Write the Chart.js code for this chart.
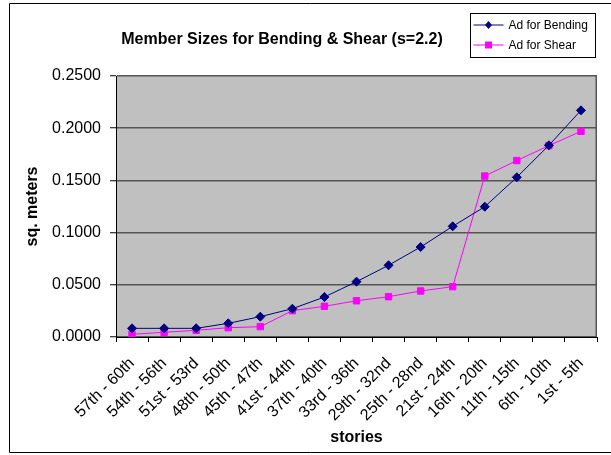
<!DOCTYPE html>
<html>
<head>
<meta charset="utf-8">
<script src="https://cdn.jsdelivr.net/npm/chart.js@4/dist/chart.umd.min.js"></script>
<style>
  html, body { margin: 0; padding: 0; background: #fff; }
  canvas { display: block; }
</style>
</head>
<body>
<canvas id="c" width="611" height="455"></canvas>
<script>
// Story groups, top of the building first
const stories = [
  '57th - 60th', '54th - 56th', '51st - 53rd', '48th - 50th', '45th - 47th',
  '41st - 44th', '37th - 40th', '33rd - 36th', '29th - 32nd', '25th - 28nd',
  '21st - 24th', '16th - 20th', '11th - 15th', '6th - 10th', '1st - 5th'
];

// Required member area (sq. meters)
const adBending = [
  0.0083, 0.0083, 0.0083, 0.0131, 0.0195, 0.0271, 0.0383, 0.0530,
  0.0687, 0.0862, 0.1060, 0.1248, 0.1530, 0.1836, 0.2171
];
const adShear = [
  0.0026, 0.0045, 0.0064, 0.0089, 0.0099, 0.0252, 0.0294, 0.0347,
  0.0386, 0.0441, 0.0482, 0.1542, 0.1690, 0.1833, 0.1970
];

const yTicks = [0, 0.05, 0.10, 0.15, 0.20, 0.25];
const seriesNames = ['Ad for Bending', 'Ad for Shear'];
const chartTitle = 'Member Sizes for Bending & Shear (s=2.2)';
const xTitle = 'stories';
const yTitle = 'sq. meters';

const FONT = "'Liberation Sans', Arial, Helvetica, sans-serif";

// White page, black frame, grey plot background and right-hand plot edge
const framePlugin = {
  id: 'frame',
  beforeDraw(chart) {
    const { ctx, chartArea: a, width, height } = chart;
    ctx.save();
    ctx.fillStyle = '#ffffff';
    ctx.fillRect(0, 0, width, height);
    ctx.strokeStyle = '#000';
    ctx.lineWidth = 1;
    ctx.beginPath();
    ctx.moveTo(width, 3.5);
    ctx.lineTo(9.5, 3.5);
    ctx.lineTo(9.5, height - 2.5);
    ctx.lineTo(width, height - 2.5);
    ctx.stroke();
    ctx.fillStyle = '#c0c0c0';
    ctx.fillRect(a.left, a.top, a.right - a.left, a.bottom - a.top);
    ctx.restore();
  },
  beforeDatasetsDraw(chart) {
    const { ctx, chartArea: a } = chart;
    ctx.save();
    ctx.strokeStyle = '#555';
    ctx.lineWidth = 1.5;
    ctx.beginPath();
    ctx.moveTo(a.right - 0.75, a.top);
    ctx.lineTo(a.right - 0.75, a.bottom);
    ctx.stroke();
    ctx.restore();
  }
};

function drawMarker(ctx, style, x, y, color) {
  ctx.fillStyle = color;
  ctx.strokeStyle = color;
  ctx.beginPath();
  if (style === 'rectRot') {
    ctx.moveTo(x, y - 4);
    ctx.lineTo(x + 3.5, y);
    ctx.lineTo(x, y + 4);
    ctx.lineTo(x - 3.5, y);
    ctx.closePath();
  } else {
    ctx.rect(x - 3.5, y - 3.5, 7, 7);
  }
  ctx.fill();
}

// Chart heading and boxed legend in the upper right
const headerPlugin = {
  id: 'header',
  afterDraw(chart) {
    const { ctx } = chart;
    ctx.save();
    ctx.fillStyle = '#000';
    ctx.font = 'bold 16px ' + FONT;
    ctx.textAlign = 'center';
    ctx.textBaseline = 'middle';
    ctx.fillText(chartTitle, 282, 40);

    const bx = 470.5, by = 13.5, bw = 125, bh = 44;
    ctx.fillStyle = '#fff';
    ctx.fillRect(bx, by, bw, bh);
    ctx.strokeStyle = '#000';
    ctx.lineWidth = 1;
    ctx.strokeRect(bx, by, bw, bh);

    ctx.font = '12px ' + FONT;
    ctx.textAlign = 'left';
    chart.data.datasets.forEach((ds, i) => {
      const y = by + 11.5 + i * 20;
      ctx.strokeStyle = ds.borderColor;
      ctx.lineWidth = 1;
      ctx.beginPath();
      ctx.moveTo(bx + 3, y);
      ctx.lineTo(bx + 33, y);
      ctx.stroke();
      drawMarker(ctx, ds.pointStyle, bx + 18, y, ds.borderColor);
      ctx.fillStyle = '#000';
      ctx.fillText(ds.label, bx + 38, y + 0.5);
    });
    ctx.restore();
  }
};

new Chart(document.getElementById('c'), {
  type: 'line',
  data: {
    labels: stories,
    datasets: [
      {
        label: seriesNames[0],
        data: adBending,
        borderColor: '#000080',
        backgroundColor: '#000080',
        borderWidth: 1,
        pointStyle: 'rectRot',
        pointRadius: 4.5,
        pointBorderWidth: 1,
        tension: 0
      },
      {
        label: seriesNames[1],
        data: adShear,
        borderColor: '#ff00ff',
        backgroundColor: '#ff00ff',
        borderWidth: 1,
        pointStyle: 'rect',
        pointRadius: 4.5,
        pointBorderWidth: 1,
        tension: 0
      }
    ]
  },
  options: {
    responsive: false,
    animation: false,
    events: [],
    layout: { padding: { top: 76, left: 0, right: 14, bottom: 0 } },
    plugins: {
      legend: { display: false },
      title: { display: false },
      tooltip: { enabled: false }
    },
    scales: {
      x: {
        type: 'category',
        offset: true,
        afterFit(scale) { scale.height = 118; },
        grid: {
          offset: true,
          drawOnChartArea: false,
          drawTicks: true,
          tickLength: 5,
          tickColor: '#000',
          tickWidth: 1
        },
        border: { display: true, color: '#000', width: 1 },
        ticks: {
          autoSkip: false,
          minRotation: 45,
          maxRotation: 45,
          padding: 12,
          color: '#000',
          font: { family: FONT, size: 16 }
        },
        title: {
          display: true,
          text: xTitle,
          color: '#000',
          font: { family: FONT, size: 16, weight: 'bold' },
          padding: { top: 0, bottom: 8 }
        }
      },
      y: {
        min: yTicks[0],
        max: yTicks[yTicks.length - 1],
        afterFit(scale) { scale.width = 116; },
        afterBuildTicks(scale) { scale.ticks = yTicks.map(v => ({ value: v })); },
        grid: {
          color: '#555',
          lineWidth: 1.5,
          drawTicks: true,
          tickLength: 6,
          tickColor: '#000',
          tickWidth: 1
        },
        border: { display: true, color: '#000', width: 1 },
        ticks: {
          padding: 9,
          color: '#000',
          font: { family: FONT, size: 16 },
          callback: v => Number(v).toFixed(4)
        },
        title: {
          display: true,
          text: yTitle,
          color: '#000',
          font: { family: FONT, size: 16, weight: 'bold' },
          padding: { top: 23, bottom: 0 }
        }
      }
    }
  },
  plugins: [framePlugin, headerPlugin]
});
</script>
</body>
</html>
